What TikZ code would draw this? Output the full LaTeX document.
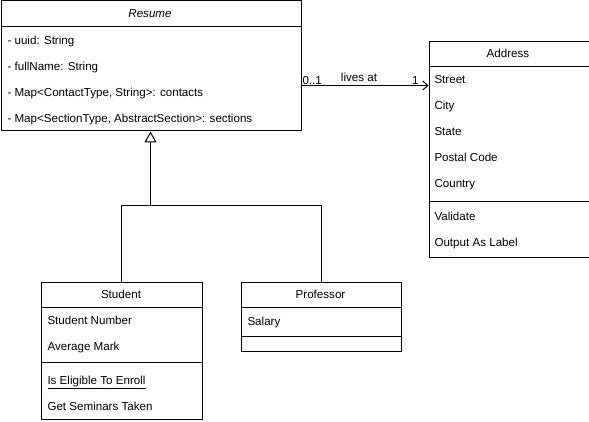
\documentclass[tikz,border=0pt]{standalone}
\usepackage{fontspec}
\setmainfont{Liberation Sans}
\usetikzlibrary{arrows.meta}

\begin{document}
\begin{tikzpicture}[x=1pt,y=-1pt,line width=1pt,line join=miter,
  cls/.style={draw,rectangle,inner sep=0pt,anchor=north west},
  attr/.style={anchor=base west,inner sep=0pt,font=\fontsize{11.6}{14}\selectfont},
  ttl/.style={anchor=base,inner sep=0pt,font=\fontsize{11.6}{14}\selectfont},
  mult/.style={inner sep=0pt,font=\fontsize{11.6}{14}\selectfont},
  gen/.style={-{Triangle[open,length=11pt,width=12pt]}},
  assoc/.style={-{Straight Barb[length=5pt,width=9pt]}}]
\useasboundingbox (0,0) rectangle (589,422);

% Abstract class Resume.
\node[cls,minimum width=300pt,minimum height=130pt] (resume) at (0.5,0.5) {};
\draw (resume.west |- 0,26.5) -- (resume.east |- 0,26.5);
\node[ttl,font=\fontsize{11.6}{14}\selectfont\itshape] (resumeT) at (150,18) {Resume};
\node[attr] (uuid) at (7,45) {- uuid: String};
\node[attr] (fullName) at (7,71) {- fullName: String};
\node[attr] (contacts) at (7,97) {- Map<ContactType, String>: contacts};
\node[attr] (sections) at (7,123) {- Map<SectionType, AbstractSection>: sections};

% Class Address.
\node[cls,minimum width=160pt,minimum height=215pt] (address) at (428.5,41.5) {};
\draw (address.west |- 0,66.5) -- (address.east |- 0,66.5);
\draw (address.west |- 0,201.5) -- (address.east |- 0,201.5);
\node[ttl] (addressT) at (508,58) {Address};
\foreach \n/\y/\t in {street/84/Street,city/110/City,state/136/State,
  postal/162/Postal Code,country/188/Country,validate/221/Validate,
  label/247/Output As Label}
  \node[attr] (\n) at (434,\y) {\t};

% Class Student.
\node[cls,minimum width=161pt,minimum height=137pt] (student) at (40.5,281.5) {};
\draw (student.west |- 0,307.5) -- (student.east |- 0,307.5);
\draw (student.west |- 0,362.5) -- (student.east |- 0,362.5);
\node[ttl] (studentT) at (121,298) {Student};
\node[attr] (number) at (47,324) {Student Number};
\node[attr] (mark) at (47,350) {Average Mark};
\node[attr] (enroll) at (47,384) {\underline{Is Eligible To Enroll}};
\node[attr] (seminars) at (47,410) {Get Seminars Taken};

% Class Professor.
\node[cls,minimum width=160pt,minimum height=69pt] (professor) at (240.5,281.5) {};
\draw (professor.west |- 0,307.5) -- (professor.east |- 0,307.5);
\draw (professor.west |- 0,336.5) -- (professor.east |- 0,336.5);
\node[ttl] (professorT) at (320.5,298) {Professor};
\node[attr] (salary) at (247,325) {Salary};

% Association.
\draw[assoc] (resume.east |- 0,85.5) -- (address.west |- 0,85.5);
\node[mult,anchor=base west] (multA) at (302,85) {0..1};
\node[mult,anchor=base] (livesAt) at (359,82) {lives at};
\node[mult,anchor=base east] (multB) at (419,85) {1};

% Generalization.
\coordinate (genJ) at (150.5,205.5);
\draw (student.north) |- (genJ) -| (professor.north);
\draw[gen] (genJ) -- (resume.south -| genJ);
\end{tikzpicture}
\end{document}
